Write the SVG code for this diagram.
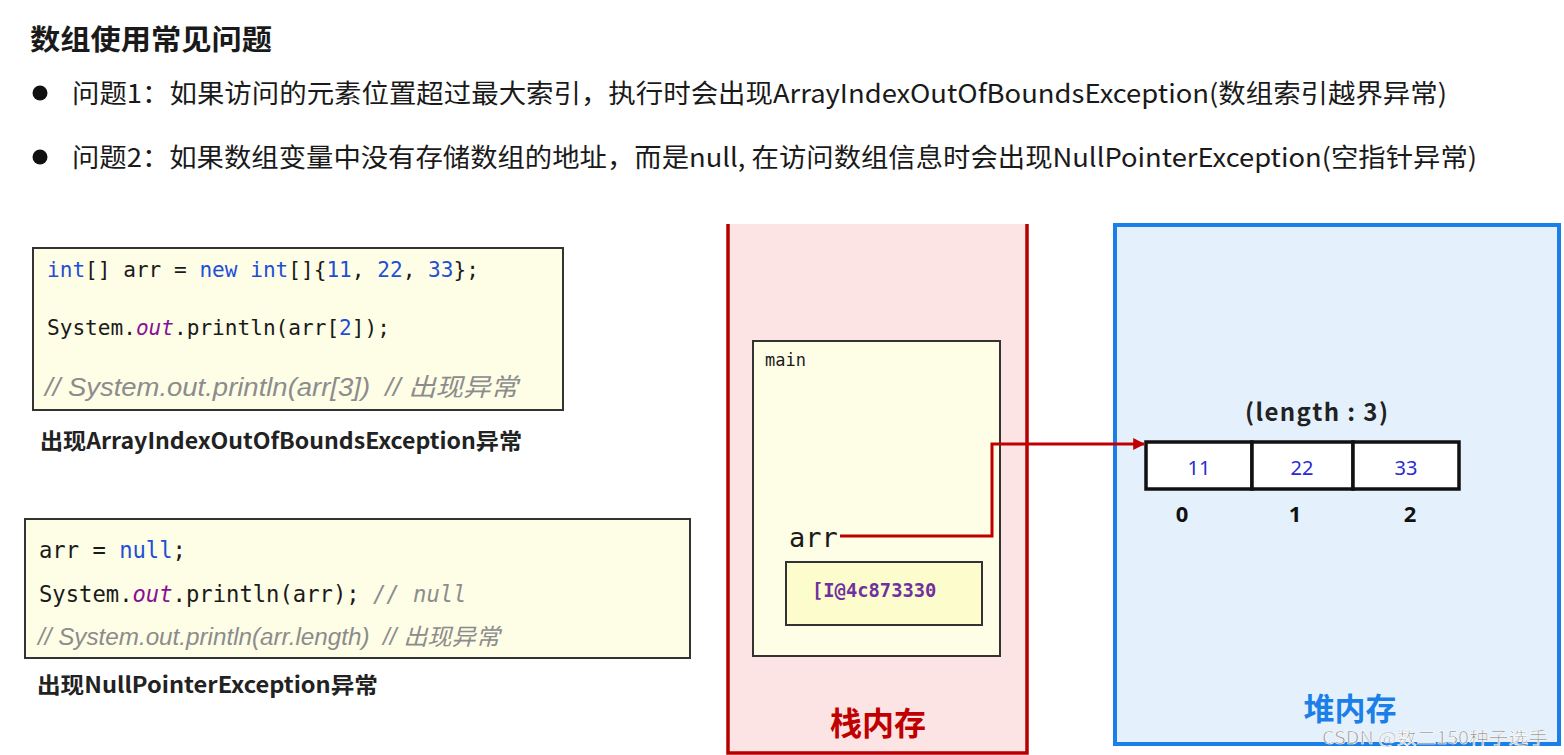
<svg xmlns="http://www.w3.org/2000/svg" width="1564" height="755" viewBox="0 0 1564 755">
<defs>
<style>
.cjk{font-family:"Noto Sans CJK SC","Noto Sans",sans-serif;}
.title{font-size:28px;font-weight:bold;fill:#1a1a1a;}
.bullet{font-size:26px;fill:#1a1a1a;}
.code{font-family:"DejaVu Sans Mono","Liberation Mono",monospace;fill:#1a1a1a;}
.kw{fill:#1f4fd6;}
.out{fill:#871094;font-style:italic;}
.cmt{fill:#8c8c8c;font-style:italic;}
.lbl{font-size:22px;font-weight:bold;fill:#222;}
.codebox{fill:#fefde6;stroke:#333;stroke-width:2;}
.cell{fill:#ffffff;stroke:#111;stroke-width:3.5;}
.val{font-family:"Noto Sans","DejaVu Sans",sans-serif;font-size:20px;fill:#2a2ad0;text-anchor:middle;}
.idx{font-family:"Noto Sans","DejaVu Sans",sans-serif;font-size:22px;font-weight:bold;fill:#111;text-anchor:middle;}
.addr{font-family:"DejaVu Sans Mono","Liberation Mono",monospace;font-weight:bold;fill:#7030a0;}
</style>
<marker id="arrow" viewBox="0 0 10 10" refX="9" refY="5" markerWidth="4" markerHeight="4" orient="auto" markerUnits="strokeWidth">
<path d="M0,0 L10,5 L0,10 z" fill="#c00000"/>
</marker>
</defs>
<rect x="0" y="0" width="1564" height="755" fill="#ffffff"/>

<g id="title">
<text class="cjk title" x="30" y="50" textLength="242" lengthAdjust="spacingAndGlyphs">数组使用常见问题</text>
</g>

<g id="bullet1">
<circle cx="40" cy="93" r="7.5" fill="#111"/>
<text class="cjk bullet" x="72" y="103" textLength="1375" lengthAdjust="spacingAndGlyphs">问题1：如果访问的元素位置超过最大索引，执行时会出现ArrayIndexOutOfBoundsException(数组索引越界异常)</text>
</g>
<g id="bullet2">
<circle cx="40" cy="157" r="7.5" fill="#111"/>
<text class="cjk bullet" x="72" y="167" textLength="1405" lengthAdjust="spacingAndGlyphs">问题2：如果数组变量中没有存储数组的地址，而是null, 在访问数组信息时会出现NullPointerException(空指针异常)</text>
</g>

<g id="code1">
<rect class="codebox" x="33" y="248" width="530" height="162"/>
<text class="code" x="47" y="277" font-size="21.1"><tspan class="kw">int</tspan>[] arr = <tspan class="kw">new int</tspan>[]{<tspan class="kw">11</tspan>, <tspan class="kw">22</tspan>, <tspan class="kw">33</tspan>};</text>
<text class="code" x="47" y="335" font-size="21.1">System.<tspan class="out">out</tspan>.println(arr[<tspan class="kw">2</tspan>]);</text>
<text class="cmt" x="45" y="396" font-size="25" textLength="473" lengthAdjust="spacingAndGlyphs" style="font-family:'Liberation Sans','Noto Sans CJK SC',sans-serif">// System.out.println(arr[3]) &#160;// 出现异常</text>
</g>
<g id="label1">
<text class="cjk lbl" x="40" y="449" textLength="482" lengthAdjust="spacingAndGlyphs">出现ArrayIndexOutOfBoundsException异常</text>
</g>

<g id="code2">
<rect class="codebox" x="25" y="519" width="665" height="139"/>
<text class="code" x="39" y="558" font-size="22.2">arr = <tspan class="kw">null</tspan>;</text>
<text class="code" x="39" y="602" font-size="22.2">System.<tspan class="out">out</tspan>.println(arr); <tspan class="cmt">// null</tspan></text>
<text class="cmt" x="38" y="645" font-size="23" textLength="462" lengthAdjust="spacingAndGlyphs" style="font-family:'Liberation Sans','Noto Sans CJK SC',sans-serif">// System.out.println(arr.length) &#160;// 出现异常</text>
</g>
<g id="label2">
<text class="cjk lbl" x="37" y="693" textLength="341" lengthAdjust="spacingAndGlyphs">出现NullPointerException异常</text>
</g>

<g id="stack">
<rect x="728" y="224" width="299" height="529" fill="#fde4e4"/>
<path d="M728,224 V753 H1027 V224" fill="none" stroke="#b50000" stroke-width="3.5"/>
<text class="cjk" x="878" y="735" font-size="32" font-weight="bold" fill="#c00000" text-anchor="middle">栈内存</text>
</g>

<g id="main">
<rect x="753" y="341" width="247" height="315" fill="#fefde6" stroke="#333" stroke-width="2"/>
<text class="code" x="765" y="366" font-size="17">main</text>
<text class="code" x="789" y="547" font-size="27">arr</text>
</g>

<g id="value">
<rect x="786" y="562" width="196" height="63" fill="#fdfccc" stroke="#333" stroke-width="2"/>
<text class="addr" x="812" y="597" font-size="18.8">[I@4c873330</text>
</g>

<g id="heap">
<rect x="1115" y="225" width="444" height="519" fill="#e4f1fd" stroke="#1a7fe8" stroke-width="4"/>
<text class="cjk" x="1350" y="720" font-size="31" font-weight="bold" fill="#1a7fe8" text-anchor="middle">堆内存</text>
</g>

<g id="array">
<text class="cjk" x="1245" y="421" font-size="24" font-weight="bold" fill="#222" textLength="143" lengthAdjust="spacing">(length : 3)</text>
<rect class="cell" x="1146" y="442" width="106" height="47"/>
<rect class="cell" x="1252" y="442" width="101" height="47"/>
<rect class="cell" x="1353" y="442" width="106" height="47"/>
<text class="val" x="1199" y="475">11</text>
<text class="val" x="1302" y="475">22</text>
<text class="val" x="1406" y="475">33</text>
<text class="idx" x="1182" y="522">0</text>
<text class="idx" x="1295" y="522">1</text>
<text class="idx" x="1410" y="522">2</text>
</g>

<g id="connectors">
<path d="M840,536 H992 V444 H1144" fill="none" stroke="#c00000" stroke-width="3" marker-end="url(#arrow)"/>
</g>

<g id="watermark">
<text class="cjk" x="1322" y="744" font-size="17" fill="#8a8a8a" stroke="#ffffff" stroke-width="0.6" textLength="226" lengthAdjust="spacingAndGlyphs">CSDN @数二150种子选手</text>
</g>
</svg>
